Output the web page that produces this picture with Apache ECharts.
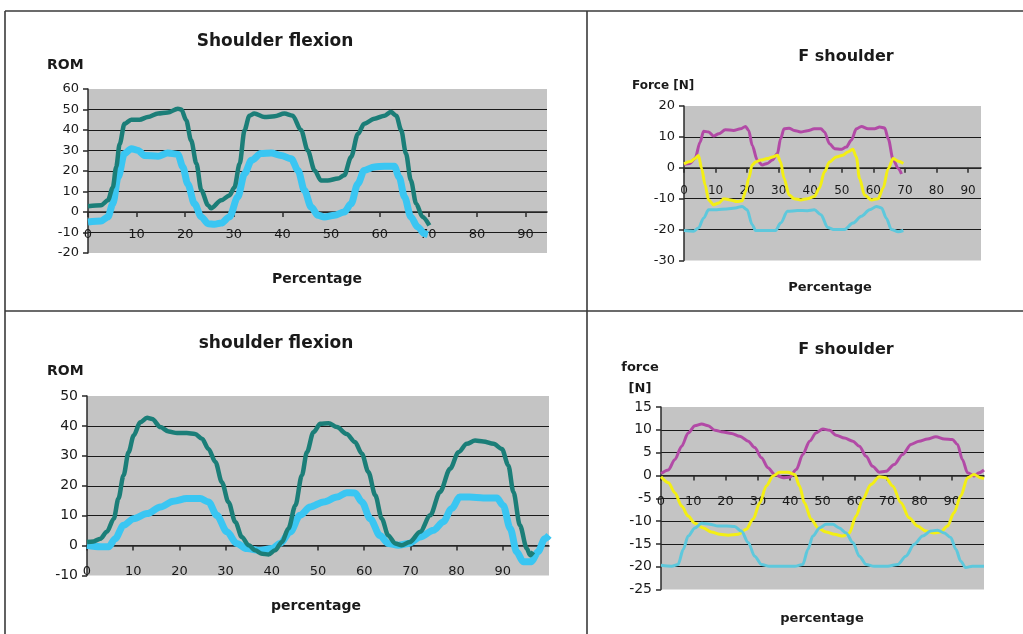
<!DOCTYPE html>
<html>
<head>
<meta charset="utf-8">
<script src="https://cdn.jsdelivr.net/npm/echarts@6/dist/echarts.min.js"></script>
<style>
html,body{margin:0;padding:0;background:#fff;}
#chart{width:1023px;height:634px;}
</style>
</head>
<body>
<div id="chart"></div>
<script>
// ---------- data (x = percentage, y = value) ----------
const xTicks = [0, 10, 20, 30, 40, 50, 60, 70, 80, 90];

// Top-left: Shoulder flexion (ROM)
const tlRomDark = [[0,2.8],[2.7,3.3],[4.1,5.7],[5.1,12],[5.8,22],[6.5,33],[7.5,43],[8.9,45],[10.6,45],[12.3,46.3],[14.4,48],[16.4,48.5],[18.5,50.4],[19.2,50],[20.2,44.7],[21.2,35],[22.3,23.6],[23.3,10.6],[24.7,3.3],[25.3,1.8],[27.4,5.7],[29.1,8.1],[30.1,12],[31.2,23.6],[32.2,40],[33.2,47],[34.2,48],[36.3,46.3],[38.4,46.7],[40.4,48],[42.1,47],[43.8,40],[45.2,30],[46.6,20.3],[47.9,15.4],[49.3,15.4],[51.4,16.3],[52.7,17.9],[54.1,26.8],[55.5,38],[56.8,43],[58.9,45.5],[61,47],[62.3,48.8],[63.4,47],[64.4,40],[65.4,28.5],[66.4,15.4],[67.5,4],[68.8,-2.4],[70.2,-6.5]];
const tlRomLight = [[0,-4.9],[2.7,-4.4],[4.1,-2.4],[5.1,4],[6.2,17],[7.5,28.5],[8.9,30.9],[10.3,30],[11.6,27.6],[14.4,27.2],[16.4,28.8],[18.5,28.1],[19.5,22],[20.5,13.8],[21.9,4],[23.3,-2.4],[24.7,-5.7],[26,-6],[27.4,-5.4],[29.1,-2.4],[30.8,7.3],[32.2,18.7],[33.6,25.2],[35.6,28.5],[37.7,28.8],[39.7,27.6],[41.8,26],[43.2,20.3],[44.5,10.6],[45.9,2.4],[47.3,-1.6],[48.6,-2.4],[50.7,-1.6],[52.7,0],[54.1,4],[55.5,13.8],[56.8,20.3],[58.9,22],[61,22.3],[63,22.3],[64,17],[65.1,7.3],[66.4,-2.4],[67.8,-7.3],[69.2,-10.6],[69.9,-10.9]];

// Top-right: F shoulder (Force [N])
const trForceMagenta = [[0,1.1],[1.9,1.4],[3.5,3],[5.1,8.3],[6.2,11.8],[7.8,11.6],[9.4,10.3],[11,11],[13.1,12.3],[15.7,12.1],[17.9,12.6],[19.5,13.4],[20.5,12.1],[21.6,7.3],[23.2,2.5],[24.8,0.9],[26.4,1.4],[28,2.5],[29.6,4.6],[30.6,9.4],[31.7,12.6],[33.3,12.8],[34.9,12.1],[37,11.6],[39.1,12],[41.3,12.6],[43.4,12.6],[44.5,11.6],[46.1,7.8],[47.7,6.2],[49.8,6],[51.4,6.7],[53,8.9],[54.6,12.6],[56.2,13.4],[58.3,12.6],[60.4,12.6],[62,13.2],[63.6,12.9],[64.7,9.4],[66.3,2.5],[67.9,-0.2],[68.9,-2]];
const trForceYellow = [[0,1.3],[2,2],[3.5,3],[4.6,4],[5.6,-0.2],[6.7,-5.6],[7.8,-10.4],[9.4,-12],[11,-11.4],[12.6,-10],[14.7,-10.4],[16.8,-10.9],[18.4,-10.7],[19.5,-7.7],[20.5,-3.4],[21.6,0.9],[22.7,1.9],[24.3,2.5],[26.4,3],[28,3.5],[29.6,4.1],[30.6,1.9],[31.7,-3.4],[33.3,-8.8],[34.9,-10],[37,-10.4],[39.1,-10],[41.3,-9.3],[42.9,-6.6],[44.5,-1.3],[46.1,1.9],[48.2,3.5],[50.3,4.1],[51.9,5.1],[53.5,6],[54.6,3.5],[55.6,-3.4],[57.2,-8.8],[59.4,-10.4],[61.5,-10],[63.1,-6.6],[64.7,-0.2],[66.3,3],[67.9,2.1],[69.5,1.4]];
const trForceCyan = [[0,-20.3],[3,-20.5],[4.6,-19.5],[6.2,-16.3],[7.8,-13.6],[10.4,-13.6],[13.6,-13.3],[16.3,-13],[18.4,-12.5],[20,-13.6],[21.6,-18.4],[22.7,-20.3],[25.9,-20.3],[29,-20.3],[30.6,-17.9],[32.8,-14.1],[36,-13.8],[39.1,-13.9],[41.3,-13.6],[43.4,-15.2],[45.5,-19.3],[47.7,-20],[50.9,-20],[53.5,-17.9],[56.2,-15.7],[58.8,-13.6],[61,-12.5],[62.6,-13],[64.1,-16.3],[65.7,-20],[67.9,-20.7],[69.5,-20.3]];

// Bottom-left: shoulder flexion (ROM)
const blRomDark = [[0,1.2],[1.4,1.4],[2.9,2.3],[4.3,4.6],[5.8,9],[6.8,15.7],[7.9,23.4],[9,31.2],[10.1,36.8],[11.5,41.2],[13,42.7],[14.1,42.3],[15.9,39.6],[17.7,38.1],[19.5,37.6],[21.6,37.6],[23.4,37.3],[24.9,35.7],[26.3,32.3],[27.8,27.9],[29.2,21.2],[30.6,14.6],[32.1,7.9],[33.5,2.9],[35,0.1],[36.4,-1.6],[37.9,-2.7],[39.3,-3],[40.7,-1.6],[42.2,1.2],[43.6,5.7],[45.1,13.4],[46.5,23.4],[47.6,31.2],[49,37.9],[50.5,40.7],[52.3,40.9],[54.1,39.6],[56.2,37.3],[58,34.6],[59.5,30.7],[60.9,24.6],[62.4,16.8],[63.8,9],[65.2,3.4],[66.7,0.7],[68.1,0.1],[69.9,1.2],[72.1,4.6],[74.3,10.1],[76.4,17.9],[78.6,25.7],[80.4,31.2],[82.2,34],[84,35.1],[85.8,34.8],[88,34],[89.8,32.3],[91.2,26.8],[92.3,17.9],[93.7,6.8],[95.2,-1],[95.9,-3.2],[96.6,-2.1]];
const blRomLight = [[0,0.1],[2.9,-0.4],[4.7,-0.4],[6.1,2.3],[7.9,6.8],[10.1,9],[13,10.7],[15.9,12.9],[18.7,14.8],[21.6,15.7],[24.5,15.7],[26.3,14.6],[28.1,10.1],[30.3,4.6],[32.4,0.7],[34.6,-1],[37.5,-1.6],[40,-1],[41.8,0.7],[44,4.6],[46.1,10.1],[48.3,12.9],[51.2,14.6],[54.1,16.2],[56.2,17.7],[58,17.6],[59.5,14.6],[61.3,9],[63.4,3.4],[65.2,0.7],[67.4,0.1],[69.6,0.7],[72.1,2.9],[75,5.1],[77.1,7.9],[78.9,12.3],[80.7,16.2],[82.8,16.2],[85.8,15.9],[88.7,15.9],[90.1,13.4],[91.6,5.7],[93,-2.1],[94.4,-5.4],[96.2,-5.4],[97.6,-2.1],[99.1,2.3],[100,3.4]];

// Bottom-right: F shoulder (force [N])
const brForceMagenta = [[0,0.4],[2.3,1.2],[4.3,3.5],[6.4,6.4],[8.4,9.3],[10.5,10.9],[12.6,11.3],[14.6,10.9],[16.7,9.9],[19.2,9.5],[21.8,9.2],[24.4,8.6],[27,7.5],[29,6.1],[31.1,3.9],[33.1,1.7],[35.2,0.2],[37.8,-0.5],[39.8,-0.4],[41.9,1.3],[43.9,4.6],[46,7.5],[48,9.3],[50.1,10.2],[52.2,9.9],[54.2,8.8],[56.8,8.2],[59.4,7.5],[61.4,6.4],[63.5,4.2],[65.5,2],[67.6,0.7],[69.6,0.9],[72.2,2.4],[74.8,4.6],[77.4,6.8],[79.9,7.5],[82.5,8],[85.1,8.5],[87.7,8],[90.2,7.9],[91.8,6.8],[93.3,3.5],[94.9,0.6],[96.9,-0.1],[98.5,0.6],[100,1.2]];
const brForceYellow = [[0,-0.3],[2.3,-1.6],[4.3,-3.8],[6.4,-6.7],[8.4,-8.9],[10.5,-10.5],[13.1,-11.5],[15.6,-12.4],[18.2,-12.9],[20.8,-13.1],[23.9,-12.9],[26.4,-11.8],[28.5,-9.6],[30.6,-6],[32.6,-2.3],[34.7,-0.1],[36.7,0.7],[39.3,0.7],[41.4,0.2],[42.9,-2.3],[44.4,-6],[46.5,-9.6],[48.6,-11.5],[51.1,-12.4],[53.7,-12.9],[56.3,-13.3],[58.3,-12.6],[60.4,-8.9],[62.4,-5.3],[65,-2],[67.6,-0.3],[69.6,-0.5],[71.7,-2.3],[74.3,-6],[76.8,-9.3],[79.4,-11.1],[82,-12.2],[84.6,-12.6],[86.6,-12.4],[88.7,-11.1],[90.7,-8.2],[92.8,-4.5],[94.9,-0.5],[96.9,0.2],[99,-0.5],[100,-0.7]];
const brForceCyan = [[0,-19.7],[3.3,-19.9],[5.3,-19.5],[6.9,-16.2],[8.4,-13.3],[10.5,-11.5],[12.6,-10.5],[15.1,-10.7],[17.7,-11.1],[20.3,-11.1],[22.8,-11.2],[24.9,-12.2],[27,-14.7],[29,-17.7],[31.1,-19.5],[33.6,-19.9],[37.2,-19.9],[41.4,-19.9],[43.9,-19.5],[45.5,-16.2],[47,-13.3],[49.1,-11.5],[51.1,-10.7],[53.2,-10.7],[55.2,-11.5],[57.3,-12.6],[59.4,-14.7],[61.4,-17.7],[63.5,-19.5],[66,-19.9],[70.2,-19.9],[73.3,-19.5],[75.8,-17.7],[78.4,-15.1],[81,-13.3],[83.5,-12.2],[85.6,-12],[87.7,-12.6],[89.7,-13.6],[91.3,-16.2],[92.8,-18.8],[94.3,-20.2],[96.4,-19.9],[100,-19.9]];

// ---------- chart ----------
const FONT = '"DejaVu Sans", "Liberation Sans", Arial, sans-serif';
const TXT = '#1a1a1a';
const C_TEAL = '#1b7e78', C_SKY = '#3ac6f2', C_MAG = '#b24aa6', C_YEL = '#f3ef14', C_CYAN = '#5ec8dc';

const grids = [
  { left: 88, top: 89, width: 459, height: 164 },
  { left: 684, top: 106, width: 297, height: 154.5 },
  { left: 87, top: 396, width: 462, height: 179.5 },
  { left: 661, top: 407, width: 323, height: 182.5 }
];
const yRanges = [[-20, 60, 10], [-30, 20, 10], [-10, 50, 10], [-25, 15, 5]];

// x axis sits on the y = 0 line (Excel "crosses at 0")
function xAxisDef(gi, max, fs, margin) {
  const yr = yRanges[gi];
  const zeroShift = -(0 - yr[0]) / (yr[1] - yr[0]) * grids[gi].height;
  return {
    type: 'value', gridIndex: gi, min: 0, max: max, interval: 10,
    offset: zeroShift,
    axisLine: { onZero: false, lineStyle: { color: '#2a2a2a', width: 1.5 } },
    axisTick: { show: true, length: 5, customValues: xTicks, lineStyle: { color: '#2a2a2a', width: 1.5 } },
    axisLabel: { customValues: xTicks, margin: margin, fontFamily: FONT, fontSize: fs, color: TXT },
    splitLine: { show: false }
  };
}
function yAxisDef(gi, fs) {
  const yr = yRanges[gi];
  return {
    type: 'value', gridIndex: gi, min: yr[0], max: yr[1], interval: yr[2],
    axisLine: { show: true, onZero: false, lineStyle: { color: '#2a2a2a', width: 1.5 } },
    axisTick: { show: true, length: 5, lineStyle: { color: '#2a2a2a', width: 1.5 } },
    axisLabel: { margin: 9, fontFamily: FONT, fontSize: fs, color: TXT },
    splitLine: { show: true, showMinLine: false, showMaxLine: false, lineStyle: { color: '#1a1a1a', width: 1.2 } }
  };
}
function line(gi, data, color, width) {
  return {
    type: 'line', xAxisIndex: gi, yAxisIndex: gi, data: data,
    showSymbol: false, symbol: 'none', smooth: 0.3, smoothMonotone: 'x',
    lineStyle: { color: color, width: width }, itemStyle: { color: color },
    animation: false, z: 3
  };
}
function txt(x, y, text, size, align) {
  return {
    type: 'text', x: x, y: y, silent: true, z: 10,
    style: { text: text, fontFamily: FONT, fontWeight: 'bold', fontSize: size, fill: TXT,
             align: align || 'center', verticalAlign: 'middle', textAlign: align || 'center', textVerticalAlign: 'middle' }
  };
}
function ln(x1, y1, x2, y2) {
  return { type: 'line', silent: true, z: 10, shape: { x1: x1, y1: y1, x2: x2, y2: y2 },
           style: { stroke: '#3a3a3a', lineWidth: 1.6 } };
}

const chart = echarts.init(document.getElementById('chart'), null, { renderer: 'canvas' });
const gridStyle = { show: true, backgroundColor: '#c4c4c4', borderWidth: 0, containLabel: false };
chart.setOption({
  animation: false,
  backgroundColor: '#ffffff',
  grid: grids.map(g => Object.assign({}, g, gridStyle)),
  xAxis: [
    xAxisDef(0, 94.4, 13, 16),
    xAxisDef(1, 94.1, 12, 17),
    xAxisDef(2, 100, 13, 20),
    xAxisDef(3, 100, 13, 20)
  ],
  yAxis: [
    yAxisDef(0, 13),
    yAxisDef(1, 13),
    yAxisDef(2, 14),
    yAxisDef(3, 14)
  ],
  series: [
    line(0, tlRomLight, C_SKY, 7),
    line(0, tlRomDark, C_TEAL, 4.5),
    line(1, trForceMagenta, C_MAG, 3),
    line(1, trForceYellow, C_YEL, 3),
    line(1, trForceCyan, C_CYAN, 3),
    line(2, blRomLight, C_SKY, 7),
    line(2, blRomDark, C_TEAL, 4.5),
    line(3, brForceMagenta, C_MAG, 3),
    line(3, brForceYellow, C_YEL, 3),
    line(3, brForceCyan, C_CYAN, 3)
  ],
  graphic: { elements: [
    ln(5, 11, 1023, 11), ln(5, 11, 5, 634), ln(587, 11, 587, 634), ln(5, 311, 1023, 311),
    txt(275, 42, 'Shoulder flexion', 17),
    txt(47, 65, 'ROM', 14, 'left'),
    txt(317, 279, 'Percentage', 14),
    txt(846, 57, 'F shoulder', 16),
    txt(632, 86, 'Force [N]', 12, 'left'),
    txt(830, 288, 'Percentage', 13),
    txt(276, 344, 'shoulder flexion', 17),
    txt(47, 371, 'ROM', 14, 'left'),
    txt(316, 606, 'percentage', 14),
    txt(846, 350, 'F shoulder', 16),
    txt(640, 368, 'force', 13),
    txt(640, 389, '[N]', 13),
    txt(822, 619, 'percentage', 13)
  ] }
});
</script>
</body>
</html>
